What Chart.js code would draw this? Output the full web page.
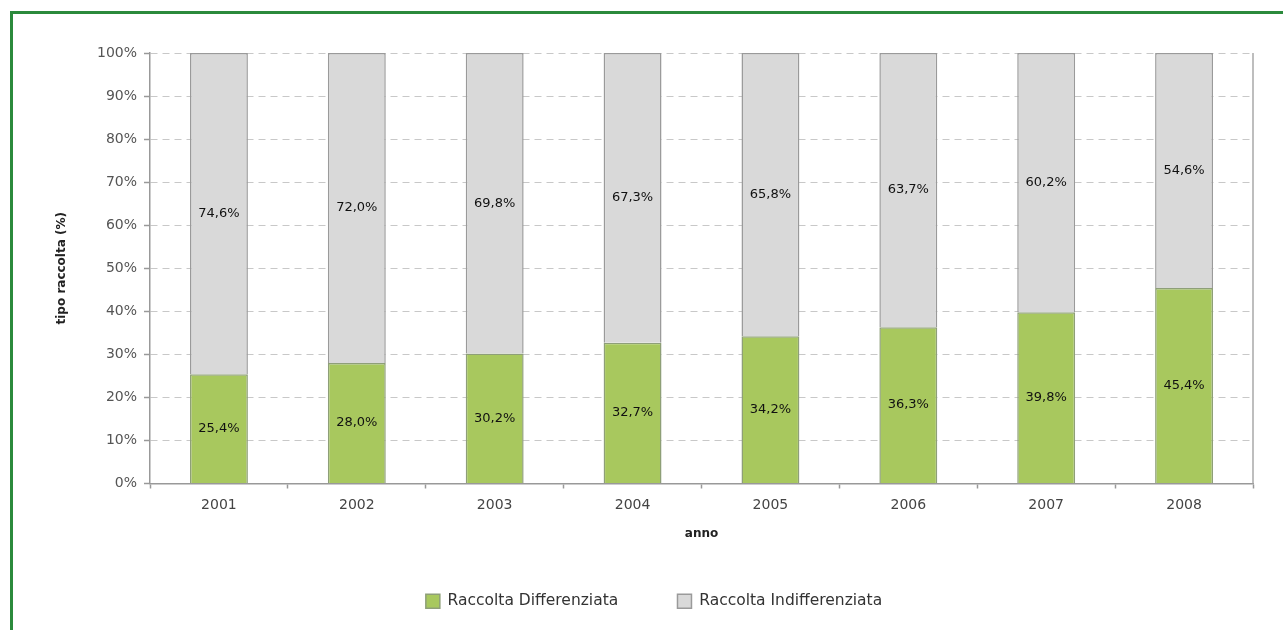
<!DOCTYPE html>
<html>
<head>
<meta charset="utf-8">
<script src="https://cdn.jsdelivr.net/npm/chart.js@4"></script>
<style>
    html, body { margin:0; padding:0; background:#fff; overflow:hidden; }
    #frame { position:absolute; left:10px; top:11px; width:1300px; height:660px; border:3px solid #2b8a3c; box-sizing:border-box; }
    #wrap { position:absolute; left:0; top:0; }
</style>
</head>
<body>
<div id="frame"></div>
<div id="wrap"><canvas id="chart" width="1283" height="630"></canvas></div>
<script>
var anni = ['2001', '2002', '2003', '2004', '2005', '2006', '2007', '2008'];
var differenziata = [25.4, 28.0, 30.2, 32.7, 34.2, 36.3, 39.8, 45.4];
var indifferenziata = [74.6, 72.0, 69.8, 67.3, 65.8, 63.7, 60.2, 54.6];
var yTicks = [0, 10, 20, 30, 40, 50, 60, 70, 80, 90, 100];

// etichette dentro le barre
var barLabels = {
    id:'barLabels',
    afterDatasetsDraw:function(chart) {
        var ctx = chart.ctx;
        ctx.save();
        ctx.font = '13px "DejaVu Sans"';
        ctx.fillStyle = '#111';
        ctx.textAlign = 'center';
        ctx.textBaseline = 'middle';
        chart.data.datasets.forEach(function(ds, i) {
            var meta = chart.getDatasetMeta(i);
            meta.data.forEach(function(bar, j) {
                var p = bar.getCenterPoint();
                ctx.fillText(ds.data[j].toFixed(1).replace('.', ',') + '%', p.x, p.y);
            });
        });
        ctx.restore();
    }
};

// bordo destro dell'area del grafico
var rightBorder = {
    id:'rightBorder',
    afterDraw:function(chart) {
        var a = chart.chartArea;
        var ctx = chart.ctx;
        ctx.save();
        ctx.strokeStyle = '#a8a8a8';
        ctx.lineWidth = 1.5;
        ctx.beginPath();
        ctx.moveTo(a.right, a.top);
        ctx.lineTo(a.right, a.bottom);
        ctx.stroke();
        ctx.restore();
    }
};

var chart = new Chart(document.getElementById('chart'), {
    type:'bar',
    data:{
        labels:anni,
        datasets:[{
            label:'Raccolta Differenziata',
            data:differenziata,
            backgroundColor:'#a8c85e',
            borderColor:'#8e9f78',
            borderWidth:1.5
        }, {
            label:'Raccolta Indifferenziata',
            data:indifferenziata,
            backgroundColor:'#d9d9d9',
            borderColor:'#9a9a9a',
            borderWidth:1.5
        }]
    },
    options:{
        responsive:false,
        animation:false,
        devicePixelRatio:1,
        layout:{
            padding:{top:53, right:30, bottom:11, left:55}
        },
        datasets:{
            bar:{categoryPercentage:1, barPercentage:0.42}
        },
        plugins:{
            tooltip:{enabled:false},
            legend:{
                position:'bottom',
                labels:{
                    boxWidth:14,
                    boxHeight:14,
                    padding:10,
                    color:'#333',
                    font:{family:'DejaVu Sans', size:15.5},
                    generateLabels:function(chart) {
                        var items = Chart.defaults.plugins.legend.labels.generateLabels(chart);
                        // spazio tra le due voci
                        items[0].text = items[0].text + '\u00a0\u00a0\u00a0\u00a0\u00a0\u00a0\u00a0\u00a0\u00a0\u00a0';
                        return items;
                    }
                }
            }
        },
        scales:{
            x:{
                stacked:true,
                grid:{
                    offset:true,
                    drawOnChartArea:false,
                    drawTicks:true,
                    tickLength:5,
                    tickColor:'#999',
                    tickWidth:1.5
                },
                border:{color:'#999', width:1.5},
                ticks:{color:'#444', padding:8, font:{family:'DejaVu Sans', size:14}},
                title:{
                    display:true,
                    text:'anno',
                    color:'#222',
                    padding:{top:0, bottom:42},
                    font:{family:'DejaVu Sans', size:12, weight:'bold'}
                },
                afterFit:function(scale) { scale.height = 100; }
            },
            y:{
                stacked:true,
                min:0,
                max:100,
                afterBuildTicks:function(scale) {
                    scale.ticks = yTicks.map(function(v) { return {value:v}; });
                },
                grid:{
                    color:'#c8c8c8',
                    lineWidth:1,
                    tickLength:6,
                    tickColor:'#999',
                    tickWidth:1.5
                },
                border:{color:'#999', width:1.5, dash:[7, 5], display:true},
                ticks:{
                    color:'#555',
                    padding:7,
                    font:{family:'DejaVu Sans', size:14},
                    callback:function(v) { return v + '%'; }
                },
                title:{
                    display:true,
                    text:'tipo raccolta (%)',
                    color:'#222',
                    padding:{top:0, bottom:0},
                    font:{family:'DejaVu Sans', size:12, weight:'bold'}
                },
                afterFit:function(scale) { scale.width = 95; }
            }
        }
    },
    plugins:[barLabels, rightBorder]
});
</script>
</body>
</html>
